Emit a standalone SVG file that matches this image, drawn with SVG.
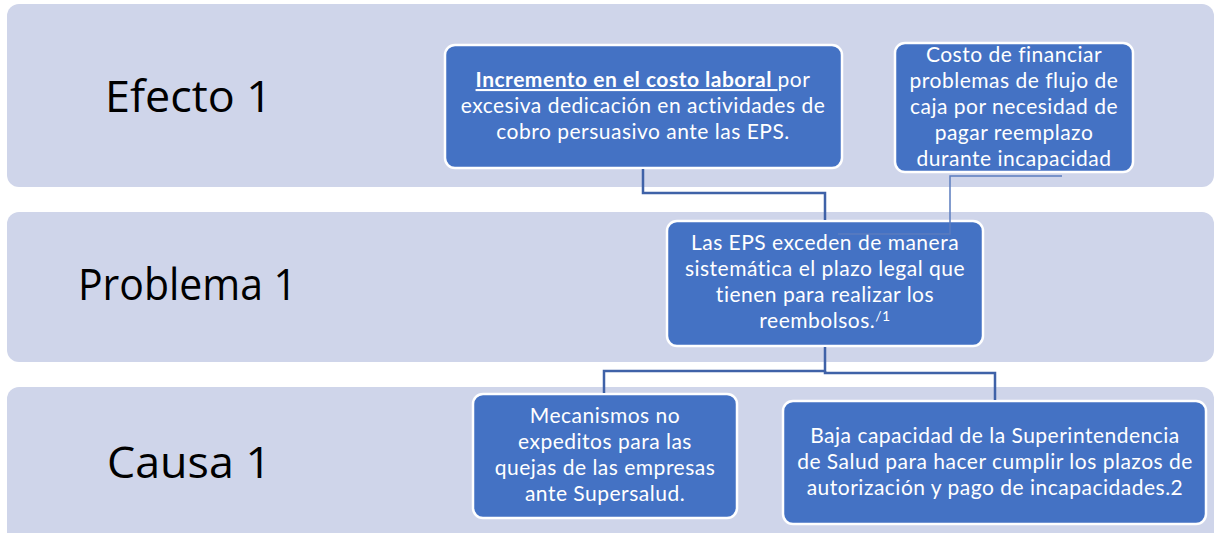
<svg xmlns="http://www.w3.org/2000/svg" width="1215" height="533" viewBox="0 0 1215 533">
<style>
.band{fill:#CFD5EA;}
.lbl{font-family:"Open Sans","Liberation Sans",sans-serif;font-size:44px;fill:#000;}
.node{fill:#4472C4;stroke:#FFFFFF;stroke-width:2.5;}
.t{font-family:Lato,"Open Sans","Liberation Sans",sans-serif;font-size:21px;letter-spacing:0.5px;fill:#FFFFFF;text-anchor:middle;}
.conn{fill:none;stroke:#3F62A8;stroke-width:2.5;}
.thin{fill:none;stroke:#5B7CBF;stroke-width:1.5;}
</style>
<rect width="1215" height="533" fill="#FFFFFF"/>
<g id="bands">
<rect class="band" x="7" y="4" width="1207" height="183" rx="12"/>
<rect class="band" x="7" y="212" width="1207" height="150" rx="12"/>
<rect class="band" x="7" y="387" width="1207" height="160" rx="12"/>
<text class="lbl" x="105" y="112" textLength="167" lengthAdjust="spacingAndGlyphs">Efecto 1</text>
<text class="lbl" x="78" y="300" textLength="219" lengthAdjust="spacingAndGlyphs">Problema 1</text>
<text class="lbl" x="107" y="478" textLength="164" lengthAdjust="spacingAndGlyphs">Causa 1</text>
</g>
<g id="efecto-a">
<rect class="node" x="445" y="45" width="397" height="123" rx="10"/>
<text class="t" x="643" y="87"><tspan font-weight="bold" text-decoration="underline">Incremento en el costo laboral </tspan>por</text>
<text class="t" x="643" y="113">excesiva dedicación en actividades de</text>
<text class="t" x="643" y="139">cobro persuasivo ante las EPS.</text>
</g>
<g id="efecto-b">
<rect class="node" x="895" y="43" width="238" height="129" rx="10"/>
<text class="t" x="1014" y="62">Costo de financiar</text>
<text class="t" x="1014" y="88">problemas de flujo de</text>
<text class="t" x="1014" y="114">caja por necesidad de</text>
<text class="t" x="1014" y="140">pagar reemplazo</text>
<text class="t" x="1014" y="166">durante incapacidad</text>
</g>
<g id="problema">
<rect class="node" x="667" y="221" width="316" height="125" rx="10"/>
<text class="t" x="825" y="250">Las EPS exceden de manera</text>
<text class="t" x="825" y="276">sistemática el plazo legal que</text>
<text class="t" x="825" y="302">tienen para realizar los</text>
<text class="t" x="825" y="328">reembolsos.<tspan font-size="14" dy="-7">/1</tspan></text>
</g>
<g id="causa-a">
<rect class="node" x="473" y="394" width="264" height="124" rx="10"/>
<text class="t" x="605" y="423">Mecanismos no</text>
<text class="t" x="605" y="449">expeditos para las</text>
<text class="t" x="605" y="475">quejas de las empresas</text>
<text class="t" x="605" y="501">ante Supersalud.</text>
</g>
<g id="causa-b">
<rect class="node" x="783" y="401" width="423" height="123" rx="10"/>
<text class="t" x="995" y="443">Baja capacidad de la Superintendencia</text>
<text class="t" x="995" y="469">de Salud para hacer cumplir los plazos de</text>
<text class="t" x="995" y="495">autorización y pago de incapacidades.2</text>
</g>
<g id="connectors">
<path class="conn" d="M643,169 V193 H825 V220"/>
<path class="conn" d="M825,347 V371 H604 V393"/>
<path class="conn" d="M825,371 V373 H995 V400"/>
<path class="thin" d="M1062,176 H950 V234 H838"/>
</g>
</svg>
